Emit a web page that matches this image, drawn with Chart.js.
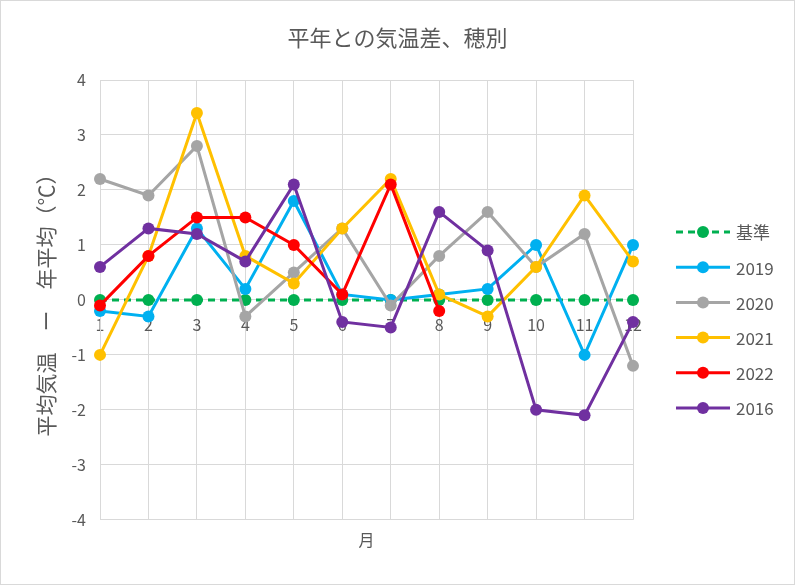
<!DOCTYPE html>
<html>
<head>
<meta charset="utf-8">
<script src="https://cdn.jsdelivr.net/npm/chart.js@4"></script>
<style>
  body { margin: 0; background: #fff; }
</style>
</head>
<body>
<canvas id="chart" width="795" height="585"></canvas>
<script>
// 月ごとの平年との気温差
const months = ['1', '2', '3', '4', '5', '6', '7', '8', '9', '10', '11', '12'];
const base = [0, 0, 0, 0, 0, 0, 0, 0, 0, 0, 0, 0];
const y2019 = [-0.2, -0.3, 1.3, 0.2, 1.8, 0.1, 0.0, 0.1, 0.2, 1.0, -1.0, 1.0];
const y2020 = [2.2, 1.9, 2.8, -0.3, 0.5, 1.3, -0.1, 0.8, 1.6, 0.6, 1.2, -1.2];
const y2021 = [-1.0, 0.8, 3.4, 0.8, 0.3, 1.3, 2.2, 0.1, -0.3, 0.6, 1.9, 0.7];
const y2022 = [-0.1, 0.8, 1.5, 1.5, 1.0, 0.1, 2.1, -0.2, null, null, null, null];
const y2016 = [0.6, 1.3, 1.2, 0.7, 2.1, -0.4, -0.5, 1.6, 0.9, -2.0, -2.1, -0.4];
const yTicks = [-4, -3, -2, -1, 0, 1, 2, 3, 4];

const seriesNames = ['基準', '2019', '2020', '2021', '2022', '2016'];
const seriesData = [base, y2019, y2020, y2021, y2022, y2016];
const seriesColors = ['#00B050', '#00B0F0', '#A5A5A5', '#FFC000', '#FF0000', '#7030A0'];

const fontName = "'Noto Sans CJK JP', 'Noto Sans', sans-serif";
const textColor = '#595959';
const gridColor = '#d9d9d9';

let datasets = seriesNames.map((name, i) => ({
    label: name,
    data: seriesData[i],
    borderColor: seriesColors[i],
    backgroundColor: seriesColors[i],
    borderWidth: 3,
    borderDash: i === 0 ? [7, 5] : [],
    pointRadius: 6,
    pointHoverRadius: 6,
    pointBorderWidth: 0,
    tension: 0,
    spanGaps: false,
    order: seriesNames.length - i   // 後の系列を上に描く
}));

// 凡例と枠は自分で描く
const legendAndFrame = {
    id: 'legendAndFrame',
    beforeDraw(chart) {
        let ctx = chart.ctx;
        ctx.save();
        ctx.fillStyle = '#fff';
        ctx.fillRect(0, 0, chart.width, chart.height);
        ctx.restore();
    },
    afterDraw(chart) {
        let ctx = chart.ctx;
        ctx.save();
        ctx.strokeStyle = '#d9d9d9';
        ctx.lineWidth = 1;
        ctx.strokeRect(0.5, 0.5, chart.width - 1, chart.height - 1);

        chart.data.datasets.forEach((ds, i) => {
            let y = 232 + i * 35.2;
            ctx.strokeStyle = ds.borderColor;
            ctx.lineWidth = 3;
            ctx.setLineDash(ds.borderDash);
            ctx.beginPath();
            ctx.moveTo(676, y);
            ctx.lineTo(730, y);
            ctx.stroke();
            ctx.setLineDash([]);
            ctx.fillStyle = ds.backgroundColor;
            ctx.beginPath();
            ctx.arc(703, y, 6, 0, Math.PI * 2);
            ctx.fill();
            ctx.fillStyle = textColor;
            ctx.font = '17px ' + fontName;
            ctx.textBaseline = 'middle';
            ctx.fillText(ds.label, 736, y + 1);
        });
        ctx.restore();
    }
};

let chart = new Chart(document.getElementById('chart'), {
    type: 'line',
    data: {
        labels: months,
        datasets: datasets
    },
    options: {
        responsive: false,
        animation: false,
        layout: {
            padding: { left: 0, right: 0, top: 0, bottom: 35 }
        },
        plugins: {
            legend: { display: false },
            tooltip: { enabled: false },
            title: {
                display: true,
                text: '平年との気温差、穂別',
                color: textColor,
                font: { family: fontName, size: 22, weight: 'normal' },
                padding: { top: 24, bottom: 29.6 }
            }
        },
        scales: {
            x: {
                type: 'category',
                position: { y: 0 },
                offset: false,
                grid: { color: gridColor, lineWidth: 1, drawTicks: false },
                border: { color: gridColor, width: 1 },
                ticks: {
                    color: textColor,
                    font: { family: fontName, size: 16 },
                    padding: 15,
                    maxRotation: 0,
                    autoSkip: false
                }
            },
            x2: {
                type: 'category',
                position: 'bottom',
                labels: months,
                grid: { display: false, drawTicks: false },
                border: { display: false },
                ticks: { display: false },
                title: {
                    display: true,
                    text: '月',
                    color: textColor,
                    font: { family: fontName, size: 16 },
                    padding: { top: 11, bottom: 0 }
                }
            },
            y: {
                min: yTicks[0],
                max: yTicks[yTicks.length - 1],
                afterBuildTicks: (scale) => {
                    scale.ticks = yTicks.map(v => ({ value: v }));
                },
                afterFit: (scale) => {
                    scale.width = 100;
                },
                grid: { color: gridColor, lineWidth: 1, drawTicks: false },
                border: { color: gridColor, width: 1 },
                ticks: {
                    color: textColor,
                    font: { family: fontName, size: 16 },
                    padding: 14
                },
                title: {
                    display: true,
                    text: '平均気温　ー　年平均（℃）',
                    color: textColor,
                    font: { family: fontName, size: 21 },
                    padding: { top: 33, bottom: 0 }
                }
            },
            // 凡例のための右側の空き
            yRight: {
                position: 'right',
                min: yTicks[0],
                max: yTicks[yTicks.length - 1],
                grid: { display: false, drawTicks: false },
                border: { display: false },
                ticks: { display: false },
                afterFit: (scale) => {
                    scale.width = 162;
                }
            }
        }
    },
    plugins: [legendAndFrame]
});
</script>
</body>
</html>
